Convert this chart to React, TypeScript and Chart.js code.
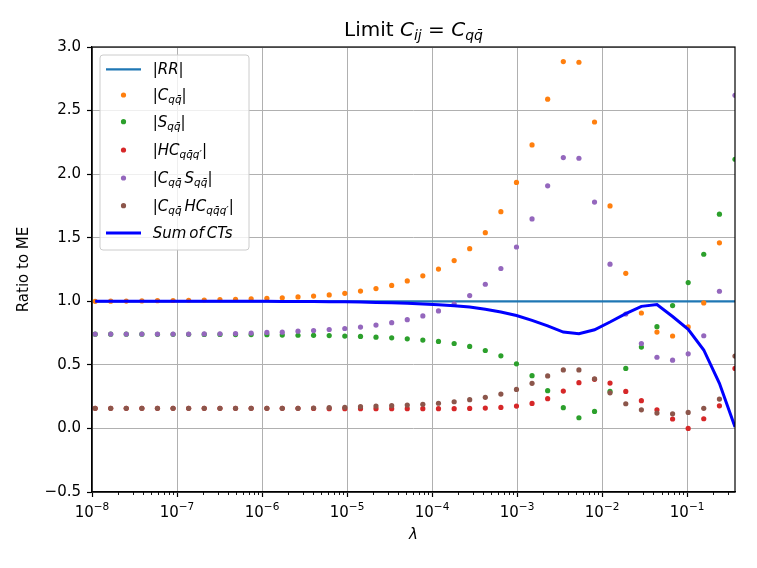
import React, { useEffect, useRef } from "react";
import Chart from "chart.js/auto";

// lambda values of the scan (x axis, log scale)
const lambdas = [
  1.09e-8, 1.66e-8, 2.53e-8, 3.86e-8, 5.89e-8, 8.99e-8, 1.37e-7, 2.09e-7, 3.2e-7, 4.88e-7,
  7.45e-7, 1.14e-6, 1.73e-6, 2.65e-6, 4.04e-6, 6.17e-6, 9.41e-6, 1.44e-5, 2.19e-5, 3.35e-5,
  5.11e-5, 7.79e-5, 1.19e-4, 1.82e-4, 2.77e-4, 4.23e-4, 6.45e-4, 9.84e-4, 1.5e-3, 2.29e-3,
  3.5e-3, 5.34e-3, 8.15e-3, 1.24e-2, 1.9e-2, 2.9e-2, 4.42e-2, 6.75e-2, 0.103, 0.157,
  0.24, 0.366,
];

const rrRatio = [
  1, 1, 1, 1, 1, 1, 1, 1, 1, 1, 1, 1, 1, 1, 1, 1, 1, 1, 1, 1, 1,
  1, 1, 1, 1, 1, 1, 1, 1, 1, 1, 1, 1, 1, 1, 1, 1, 1, 1, 1, 1, 1,
];
const cqqRatio = [
  1.0, 1.001, 1.002, 1.003, 1.005, 1.006, 1.008, 1.01, 1.013, 1.016,
  1.019, 1.023, 1.028, 1.034, 1.041, 1.05, 1.063, 1.08, 1.1, 1.125,
  1.16, 1.2, 1.253, 1.32, 1.414, 1.54, 1.705, 1.935, 2.23, 2.59,
  2.885, 2.88, 2.41, 1.75, 1.22, 0.908, 0.758, 0.727, 0.798, 0.987,
  1.46, 3.3,
];
const sqqRatio = [
  0.741, 0.741, 0.741, 0.741, 0.74, 0.74, 0.74, 0.739, 0.739, 0.738,
  0.738, 0.737, 0.734, 0.733, 0.732, 0.73, 0.726, 0.724, 0.718, 0.713,
  0.705, 0.695, 0.684, 0.668, 0.645, 0.613, 0.571, 0.508, 0.415, 0.297,
  0.163, 0.084, 0.134, 0.291, 0.472, 0.64, 0.8, 0.966, 1.147, 1.37,
  1.685, 2.117,
];
const hcRatio = [
  0.158, 0.158, 0.158, 0.158, 0.158, 0.158, 0.158, 0.158, 0.158, 0.158,
  0.158, 0.158, 0.158, 0.158, 0.157, 0.155, 0.155, 0.155, 0.155, 0.155,
  0.155, 0.155, 0.155, 0.155, 0.157, 0.16, 0.165, 0.176, 0.197, 0.234,
  0.294, 0.36, 0.386, 0.357, 0.291, 0.218, 0.147, 0.074, 0.0, 0.076,
  0.178, 0.472,
];
const csRatio = [
  0.742, 0.742, 0.742, 0.742, 0.742, 0.742, 0.742, 0.743, 0.744, 0.746,
  0.75, 0.755, 0.757, 0.765, 0.77, 0.778, 0.786, 0.797, 0.813, 0.832,
  0.855, 0.885, 0.924, 0.98, 1.045, 1.134, 1.258, 1.427, 1.648, 1.908,
  2.13, 2.125, 1.78, 1.292, 0.9, 0.668, 0.56, 0.537, 0.587, 0.729,
  1.079, 2.62,
];
const chcRatio = [
  0.158, 0.158, 0.158, 0.158, 0.158, 0.158, 0.158, 0.158, 0.158, 0.158,
  0.158, 0.158, 0.158, 0.158, 0.16, 0.163, 0.166, 0.171, 0.176, 0.179,
  0.184, 0.19, 0.198, 0.21, 0.226, 0.245, 0.27, 0.307, 0.355, 0.413,
  0.46, 0.46, 0.39, 0.28, 0.194, 0.146, 0.121, 0.115, 0.126, 0.158,
  0.231, 0.569,
];
const sumCTs = [
  1.0, 1.0, 1.0, 1.0, 1.0, 1.0, 1.0, 1.0, 1.0, 1.0,
  1.0, 1.0, 0.999, 0.999, 0.998, 0.997, 0.996, 0.994, 0.991, 0.988,
  0.984, 0.979, 0.972, 0.965, 0.955, 0.937, 0.915, 0.888, 0.85, 0.806,
  0.758, 0.745, 0.776, 0.837, 0.903, 0.96, 0.974, 0.88, 0.78, 0.617,
  0.355, 0.012,
];

const xDecades = [1e-8, 1e-7, 1e-6, 1e-5, 1e-4, 1e-3, 1e-2, 1e-1];

const FAMILY = '"DejaVu Sans", sans-serif';
const QQ = "qq\u0304";

type Seg = { t: string; it?: boolean; sub?: boolean; sup?: boolean };

function segFont(s: Seg, size: number) {
  const sz = s.sub || s.sup ? size * 0.7 : size;
  return `${s.it ? "italic " : ""}${sz}px ${FAMILY}`;
}

function richWidth(ctx: CanvasRenderingContext2D, segs: Seg[], size: number) {
  let w = 0;
  for (const s of segs) {
    ctx.font = segFont(s, size);
    w += ctx.measureText(s.t).width;
  }
  return w;
}

function drawRich(ctx: CanvasRenderingContext2D, segs: Seg[], x: number, y: number, size: number, center = false) {
  let cx = center ? x - richWidth(ctx, segs, size) / 2 : x;
  ctx.textAlign = "left";
  ctx.textBaseline = "alphabetic";
  for (const s of segs) {
    ctx.font = segFont(s, size);
    const dy = s.sub ? size * 0.22 : s.sup ? -size * 0.42 : 0;
    ctx.fillText(s.t, cx, y + dy);
    cx += ctx.measureText(s.t).width;
  }
}

const legendItems: { segs: Seg[]; color: string; kind: "line" | "dot"; width?: number; y: number }[] = [
  { segs: [{ t: "|" }, { t: "RR", it: true }, { t: "|" }], color: "#1f77b4", kind: "line", width: 2.2, y: 69.3 },
  { segs: [{ t: "|" }, { t: "C", it: true }, { t: QQ, it: true, sub: true }, { t: "|" }], color: "#ff7f0e", kind: "dot", y: 95 },
  { segs: [{ t: "|" }, { t: "S", it: true }, { t: QQ, it: true, sub: true }, { t: "|" }], color: "#2ca02c", kind: "dot", y: 121.7 },
  { segs: [{ t: "|" }, { t: "HC", it: true }, { t: QQ + "q\u2032", it: true, sub: true }, { t: "|" }], color: "#d62728", kind: "dot", y: 150 },
  {
    segs: [{ t: "|" }, { t: "C", it: true }, { t: QQ, it: true, sub: true }, { t: "\u2009" }, { t: "S", it: true }, { t: QQ, it: true, sub: true }, { t: "|" }],
    color: "#9467bd", kind: "dot", y: 178,
  },
  {
    segs: [{ t: "|" }, { t: "C", it: true }, { t: QQ, it: true, sub: true }, { t: "\u2009" }, { t: "HC", it: true }, { t: QQ + "q\u2032", it: true, sub: true }, { t: "|" }],
    color: "#8c564b", kind: "dot", y: 205.7,
  },
  { segs: [{ t: "Sum\u2009of\u2009CTs", it: true }], color: "#0000ff", kind: "line", width: 3, y: 233 },
];

const decorPlugin = {
  id: "decor",
  afterDraw(chart: any) {
    const ctx: CanvasRenderingContext2D = chart.ctx;
    const { left, right, top, bottom } = chart.chartArea;
    const xs = chart.scales.x;
    ctx.save();

    // frame
    ctx.strokeStyle = "#000";
    ctx.lineWidth = 1.2;
    ctx.strokeRect(left, top, right - left, bottom - top);

    // minor ticks on log axis
    ctx.lineWidth = 0.9;
    for (const d of xDecades) {
      for (let k = 2; k <= 9; k++) {
        const v = d * k;
        if (v > xs.max) continue;
        const px = Math.round(xs.getPixelForValue(v)) + 0.5;
        ctx.beginPath();
        ctx.moveTo(px, bottom);
        ctx.lineTo(px, bottom + 3);
        ctx.stroke();
      }
    }

    ctx.fillStyle = "#000";
    // x tick labels 10^n
    for (const d of xDecades) {
      const e = Math.round(Math.log10(d));
      const segs: Seg[] = [{ t: "10" }, { t: (e < 0 ? "\u2212" : "") + Math.abs(e), sup: true }];
      const px = xs.getPixelForValue(d);
      const w = richWidth(ctx, segs, 15);
      let cx = px - w / 2;
      ctx.textAlign = "left";
      ctx.textBaseline = "alphabetic";
      ctx.font = segFont(segs[0], 15);
      ctx.fillText(segs[0].t, cx, 516.5);
      cx += ctx.measureText(segs[0].t).width;
      ctx.font = segFont(segs[1], 15);
      ctx.fillText(segs[1].t, cx, 510);
    }

    // title
    const mid = (left + right) / 2;
    drawRich(
      ctx,
      [{ t: "Limit " }, { t: "C", it: true }, { t: "ij", it: true, sub: true }, { t: " = " }, { t: "C", it: true }, { t: QQ, it: true, sub: true }],
      mid, 36, 20, true,
    );

    // axis labels
    ctx.font = `italic 15px ${FAMILY}`;
    ctx.textAlign = "center";
    ctx.textBaseline = "alphabetic";
    ctx.fillText("\u03bb", mid, 539);

    ctx.save();
    ctx.translate(24, (top + bottom) / 2);
    ctx.rotate(-Math.PI / 2);
    ctx.font = `15px ${FAMILY}`;
    ctx.textBaseline = "middle";
    ctx.fillText("Ratio to ME", 0, 0);
    ctx.restore();

    // legend
    const bx = left + 8, by = top + 8, bw = 149, bh = 195, r = 3;
    ctx.beginPath();
    ctx.moveTo(bx + r, by);
    ctx.arcTo(bx + bw, by, bx + bw, by + bh, r);
    ctx.arcTo(bx + bw, by + bh, bx, by + bh, r);
    ctx.arcTo(bx, by + bh, bx, by, r);
    ctx.arcTo(bx, by, bx + bw, by, r);
    ctx.closePath();
    ctx.fillStyle = "rgba(255,255,255,0.8)";
    ctx.fill();
    ctx.strokeStyle = "#cccccc";
    ctx.lineWidth = 1;
    ctx.stroke();

    for (const item of legendItems) {
      if (item.kind === "line") {
        ctx.strokeStyle = item.color;
        ctx.lineWidth = item.width || 2;
        ctx.beginPath();
        ctx.moveTo(106, item.y);
        ctx.lineTo(141, item.y);
        ctx.stroke();
      } else {
        ctx.fillStyle = item.color;
        ctx.beginPath();
        ctx.arc(123.5, item.y, 2.6, 0, Math.PI * 2);
        ctx.fill();
      }
      ctx.fillStyle = "#000";
      drawRich(ctx, item.segs, 152.7, item.y + 5, 15);
    }

    ctx.restore();
  },
};

function pts(values: number[]) {
  return lambdas.map((x, i) => ({ x, y: values[i] }));
}

const App: React.FC = () => {
  const canvasRef = useRef<HTMLCanvasElement | null>(null);
  const chartRef = useRef<Chart | null>(null);

  useEffect(() => {
    if (!canvasRef.current) return;
    if (chartRef.current) chartRef.current.destroy();

    const dotSet = (data: number[], color: string, order: number) => ({
      data: pts(data),
      showLine: false,
      pointRadius: 2.6,
      pointBorderWidth: 0,
      pointBackgroundColor: color,
      backgroundColor: color,
      borderColor: color,
      clip: 0,
      order,
    });

    chartRef.current = new Chart(canvasRef.current, {
      type: "scatter",
      data: {
        datasets: [
          { data: pts(rrRatio), showLine: true, borderColor: "#1f77b4", borderWidth: 2.2, pointRadius: 0, clip: 0, order: 6 } as any,
          dotSet(cqqRatio, "#ff7f0e", 5),
          dotSet(sqqRatio, "#2ca02c", 4),
          dotSet(hcRatio, "#d62728", 3),
          dotSet(csRatio, "#9467bd", 2),
          dotSet(chcRatio, "#8c564b", 1),
          { data: pts(sumCTs), showLine: true, borderColor: "#0000ff", borderWidth: 3, pointRadius: 0, clip: 0, order: 0 } as any,
        ],
      },
      options: {
        responsive: false,
        animation: false,
        events: [],
        layout: { padding: { left: 0, right: 22, top: 47, bottom: 0 } },
        plugins: { legend: { display: false }, tooltip: { enabled: false }, title: { display: false } },
        scales: {
          x: {
            type: "logarithmic",
            min: 1e-8,
            max: 0.366,
            afterBuildTicks: (scale: any) => {
              scale.ticks = xDecades.map((v) => ({ value: v, major: true }));
            },
            afterFit: (scale: any) => {
              scale.height = 76;
            },
            ticks: { display: false },
            grid: { color: "#b0b0b0", lineWidth: 1, tickColor: "#000", tickLength: 5, tickWidth: 1.2 },
            border: { display: true, color: "#000", width: 1.2 },
          },
          y: {
            min: -0.5,
            max: 3,
            afterFit: (scale: any) => {
              scale.width = 92;
            },
            ticks: {
              stepSize: 0.5,
              padding: 6,
              color: "#000",
              font: { family: "DejaVu Sans", size: 15 },
              callback: (v: any) => Number(v).toFixed(1).replace("-", "\u2212"),
            },
            grid: { color: "#b0b0b0", lineWidth: 1, tickColor: "#000", tickLength: 5, tickWidth: 1.2 },
            border: { display: true, color: "#000", width: 1.2 },
          },
        },
      } as any,
      plugins: [decorPlugin],
    });

    return () => {
      if (chartRef.current) {
        chartRef.current.destroy();
        chartRef.current = null;
      }
    };
  }, []);

  return (
    <div style={{ position: "absolute", left: 0, top: 0, width: 757, height: 568, background: "#fff" }}>
      <canvas ref={canvasRef} width={757} height={568} style={{ display: "block" }} />
    </div>
  );
};

export default App;
